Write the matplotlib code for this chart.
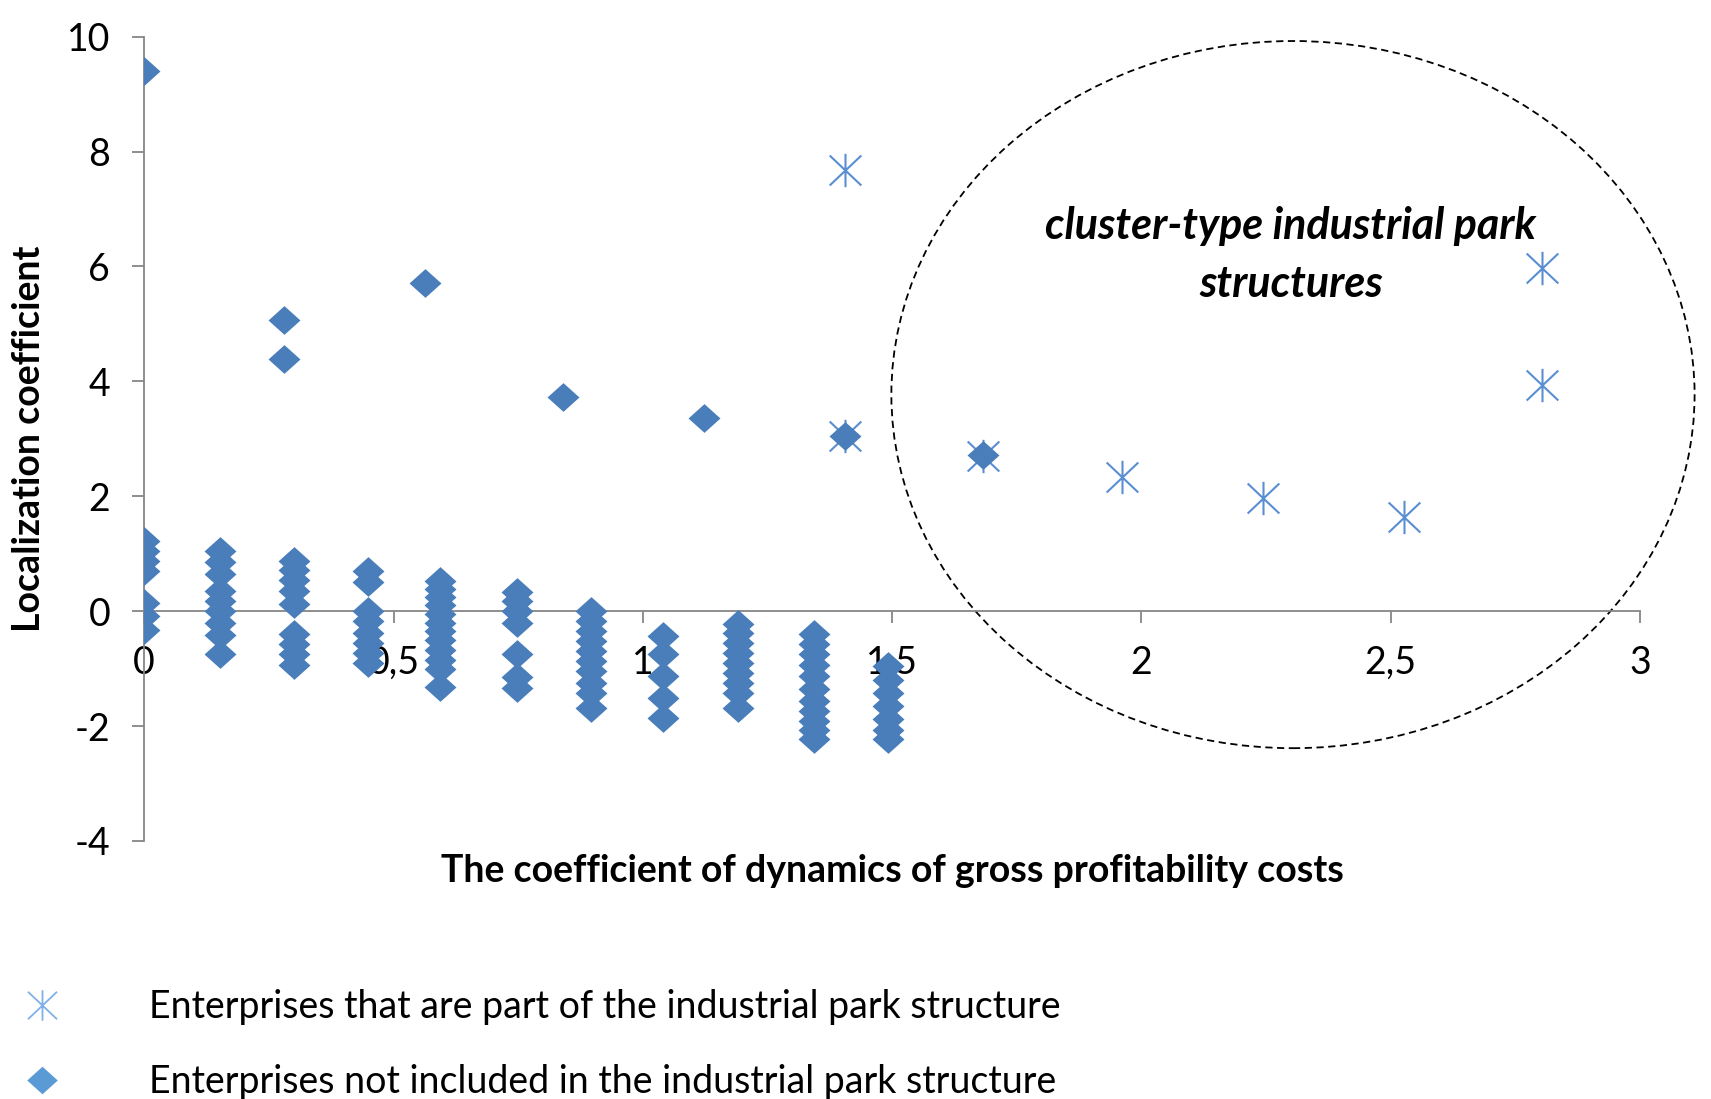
import matplotlib
matplotlib.use("Agg")
import matplotlib.pyplot as plt
from matplotlib.patches import Ellipse
from matplotlib.lines import Line2D
from matplotlib.path import Path

plt.rcParams['font.family'] = ['Lato', 'DejaVu Sans']
plt.rcParams['axes.unicode_minus'] = False

# --- data ---
# enterprises not in the park, low values, one list per column
col_x = [0, 0.152, 0.300, 0.449, 0.593, 0.748, 0.897, 1.040, 1.191, 1.343, 1.492]
col_y = [
    [1.22, 1.05, 0.88, 0.70, 0.15, -0.08, -0.33],
    [1.05, 0.85, 0.65, 0.35, 0.17, 0.0, -0.2, -0.41, -0.74],
    [0.88, 0.72, 0.55, 0.35, 0.13, -0.40, -0.58, -0.75, -0.94],
    [0.70, 0.50, 0.0, -0.17, -0.38, -0.55, -0.72, -0.91],
    [0.53, 0.38, 0.25, 0.10, -0.05, -0.20, -0.35, -0.50, -0.68, -0.85, -1.0, -1.32],
    [0.33, 0.17, 0.0, -0.20, -0.75, -1.15, -1.33],
    [0.01, -0.17, -0.35, -0.52, -0.70, -0.87, -1.04, -1.25, -1.42, -1.69],
    [-0.43, -0.75, -1.13, -1.51, -1.86],
    [-0.23, -0.38, -0.55, -0.72, -0.90, -1.07, -1.25, -1.42, -1.69],
    [-0.40, -0.58, -0.75, -0.93, -1.13, -1.36, -1.57, -1.74, -1.91, -2.06, -2.23],
    [-0.95, -1.19, -1.42, -1.65, -1.88, -2.06, -2.23],
]
# enterprises not in the park, high values
top_x = [0, 0.280, 0.280, 0.564, 0.840, 1.122, 1.405, 1.683]
top_y = [9.40, 5.06, 4.39, 5.72, 3.72, 3.37, 3.05, 2.71]
# enterprises in the park
park_x = [1.405, 1.405, 1.683, 1.961, 2.243, 2.526, 2.803, 2.803]
park_y = [7.68, 3.05, 2.70, 2.34, 1.97, 1.64, 5.97, 3.94]

xticks = [0, 0.5, 1, 1.5, 2, 2.5, 3]
xtick_labels = ['0', '0,5', '1', '1,5', '2', '2,5', '3']
yticks = [-4, -2, 0, 2, 4, 6, 8, 10]

labels = ['Enterprises that are part of the industrial park structure',
          'Enterprises not included in the industrial park structure']

dia_color = '#4A7EBB'
star_color = '#5A8ED2'

# excel-like markers
diamond = Path([(0, 0.9), (1, 0), (0, -0.9), (-1, 0), (0, 0.9)], closed=True)
star = Path([(0, -1), (0, 1), (-0.95, -0.9), (0.95, 0.9), (-0.95, 0.9), (0.95, -0.9)],
            [Path.MOVETO, Path.LINETO, Path.MOVETO, Path.LINETO, Path.MOVETO, Path.LINETO])

fig = plt.figure(figsize=(17.11, 10.99), dpi=100)
ax = fig.add_axes([0.0843, 0.2348, 0.8742, 0.7318])

ax.plot(park_x, park_y, ls='none', marker=star, ms=24, mew=1.5,
        mec=star_color, mfc='none', zorder=3)
for x, ys in zip(col_x, col_y):
    ax.plot([x] * len(ys), ys, ls='none', marker=diamond, ms=23,
            mfc=dia_color, mec='none', zorder=4)
ax.plot(top_x, top_y, ls='none', marker=diamond, ms=23,
        mfc=dia_color, mec='none', zorder=4)

ax.set_xlim(0, 3)
ax.set_ylim(-4, 10)
ax.set_xticks(xticks)
ax.set_xticklabels(xtick_labels)
ax.set_yticks(yticks)
ax.set_yticklabels([str(v) for v in yticks])

for s in ['top', 'right']:
    ax.spines[s].set_visible(False)
ax.spines['bottom'].set_position(('data', 0))
for s in ['left', 'bottom']:
    ax.spines[s].set_color('#868686')
    ax.spines[s].set_linewidth(1.3)
ax.tick_params(axis='both', direction='out', length=8.5, width=1.3,
               color='#868686', labelsize=27, pad=16, labelcolor='black')

ax.set_xlabel('The coefficient of dynamics of gross profitability costs',
              fontsize=27, fontweight='bold', va='center')
ax.xaxis.set_label_coords(0.5, -0.0373)
ax.set_ylabel('Localization coefficient', fontsize=27, fontweight='bold', va='center')
ax.yaxis.set_label_coords(-0.0768, 0.5)

# dashed ellipse around the cluster-type structures
ell = Ellipse((2.304, 3.77), width=1.611, height=12.31, fill=False, ec='black',
              lw=1.3, ls=(0, (4, 2.5)), clip_on=False)
ax.add_patch(ell)
ax.text(2.30, 6.205, 'cluster-type industrial park\nstructures', ha='center', va='center',
        fontsize=31, fontweight='bold', fontstyle='italic', linespacing=1.55)

handles = [Line2D([], [], ls='none', marker=star, ms=22, mew=1.3, mec='#7FB0E6', mfc='none'),
           Line2D([], [], ls='none', marker=diamond, ms=22, mfc='#5B9BD5', mec='none')]
fig.legend(handles, labels, loc='upper left', bbox_to_anchor=(0.0137, 0.100),
           frameon=False, fontsize=27, handlelength=1.0, handletextpad=2.35,
           labelspacing=1.05, borderpad=0, borderaxespad=0)

fig.savefig('out.png', dpi=100)
